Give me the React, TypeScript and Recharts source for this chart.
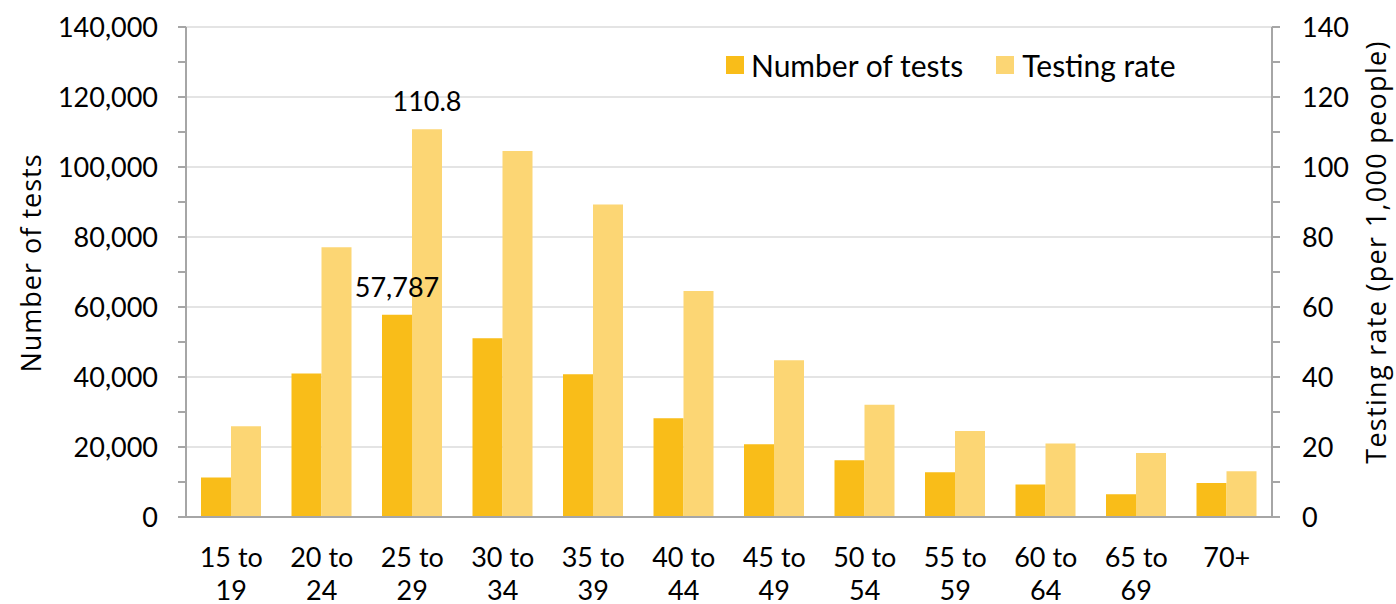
import { Bar, BarChart, CartesianGrid, LabelList, XAxis, YAxis } from "recharts";

const categories = [
  "15 to 19",
  "20 to 24",
  "25 to 29",
  "30 to 34",
  "35 to 39",
  "40 to 44",
  "45 to 49",
  "50 to 54",
  "55 to 59",
  "60 to 64",
  "65 to 69",
  "70+",
];
const numberOfTests = [11300, 41000, 57787, 51100, 40800, 28200, 20800, 16200, 12800, 9300, 6500, 9700];
const testingRate = [25.9, 77.1, 110.8, 104.6, 89.3, 64.6, 44.8, 32.1, 24.6, 21.0, 18.3, 13.1];

const leftTicks = [0, 10000, 20000, 30000, 40000, 50000, 60000, 70000, 80000, 90000, 100000, 110000, 120000, 130000, 140000];
const rightTicks = [0, 10, 20, 30, 40, 50, 60, 70, 80, 90, 100, 110, 120, 130, 140];
const gridValues = [20000, 40000, 60000, 80000, 100000, 120000, 140000];
const labelledIndex = 2;

const data = categories.map((age, i) => ({
  age,
  tests: numberOfTests[i],
  rate: testingRate[i],
}));

const DARK = "#F9BD19";
const LIGHT = "#FCD674";
const AXIS = "#A6A6A6";
const TICK_FONT = "Lato, 'Open Sans', sans-serif";
const TITLE_FONT = "'Open Sans', 'Noto Sans', sans-serif";

const fmt = (v: number) => new Intl.NumberFormat("en-US").format(v);

const AgeTick = ({ x, y, payload }: any) => {
  const text: string = payload.value;
  const cut = text.lastIndexOf(" ");
  const lines = text.includes(" to ") ? [text.slice(0, cut), text.slice(cut + 1)] : [text];
  return (
    <text x={x} y={y} textAnchor="middle" fontFamily={TICK_FONT} fontSize={27} fill="#000">
      {lines.map((line, i) => (
        <tspan key={i} x={x} dy={i === 0 ? 42 : 33}>
          {line}
        </tspan>
      ))}
    </text>
  );
};

const barLabel = (format: (v: number) => string) => (props: any) => {
  const { x, y, width, value, index } = props;
  if (index !== labelledIndex) return null;
  return (
    <text
      x={Number(x) + Number(width) / 2}
      y={Number(y) - 18}
      textAnchor="middle"
      fontFamily={TICK_FONT}
      fontSize={27}
      fill="#000"
    >
      {format(Number(value))}
    </text>
  );
};

export default function App() {
  return (
    <div style={{ position: "absolute", left: 0, top: 0, width: 1396, height: 604, background: "#fff" }}>
      <BarChart
        width={1396}
        height={604}
        data={data}
        margin={{ top: 27, right: 0, bottom: 0, left: 0 }}
        barSize={30}
        barGap={0}
      >
        <CartesianGrid
          yAxisId="left"
          vertical={false}
          horizontalValues={gridValues}
          stroke="#E4E4E4"
          strokeWidth={2}
        />
        <XAxis
          dataKey="age"
          height={87}
          interval={0}
          tickLine={false}
          axisLine={{ stroke: AXIS, strokeWidth: 2 }}
          tick={<AgeTick />}
        />
        <YAxis
          yAxisId="left"
          width={186}
          domain={[0, 140000]}
          ticks={leftTicks}
          interval={0}
          tickSize={8}
          tickMargin={20}
          tickLine={{ stroke: AXIS, strokeWidth: 2 }}
          axisLine={{ stroke: AXIS, strokeWidth: 2 }}
          tickFormatter={(v: number) => (v % 20000 === 0 ? fmt(v) : "")}
          tick={{ fontFamily: TICK_FONT, fontSize: 27, fill: "#000" }}
          label={{
            content: () => (
              <text
                x={41}
                y={263}
                transform="rotate(-90, 41, 263)"
                textAnchor="middle"
                fontFamily={TITLE_FONT}
                fontSize={27}
                letterSpacing={1}
                fill="#000"
              >
                Number of tests
              </text>
            ),
          }}
        />
        <YAxis
          yAxisId="right"
          orientation="right"
          width={124}
          domain={[0, 140]}
          ticks={rightTicks}
          interval={0}
          tickSize={8}
          tickMargin={22}
          tickLine={{ stroke: AXIS, strokeWidth: 2 }}
          axisLine={{ stroke: AXIS, strokeWidth: 2 }}
          tickFormatter={(v: number) => (v % 20 === 0 ? String(v) : "")}
          tick={{ fontFamily: TICK_FONT, fontSize: 27, fill: "#000" }}
          label={{
            content: () => (
              <text
                x={1386}
                y={252}
                transform="rotate(-90, 1386, 252)"
                textAnchor="middle"
                fontFamily={TITLE_FONT}
                fontSize={27}
                letterSpacing={1.3}
                fill="#000"
              >
                Testing rate (per 1,000 people)
              </text>
            ),
          }}
        />
        <Bar yAxisId="left" dataKey="tests" name="Number of tests" fill={DARK} isAnimationActive={false}>
          <LabelList dataKey="tests" content={barLabel(fmt)} />
        </Bar>
        <Bar yAxisId="right" dataKey="rate" name="Testing rate" fill={LIGHT} isAnimationActive={false}>
          <LabelList dataKey="rate" content={barLabel((v) => v.toFixed(1))} />
        </Bar>
      </BarChart>
      <div
        style={{
          position: "absolute",
          left: 726,
          top: 47,
          display: "flex",
          alignItems: "center",
          fontFamily: TICK_FONT,
          fontSize: 30,
          lineHeight: "36px",
          color: "#000",
        }}
      >
        <span style={{ width: 18, height: 18, background: DARK, marginRight: 7 }} />
        <span style={{ marginRight: 33 }}>Number of tests</span>
        <span style={{ width: 18, height: 18, background: LIGHT, marginRight: 8 }} />
        <span>Testing rate</span>
      </div>
    </div>
  );
}
